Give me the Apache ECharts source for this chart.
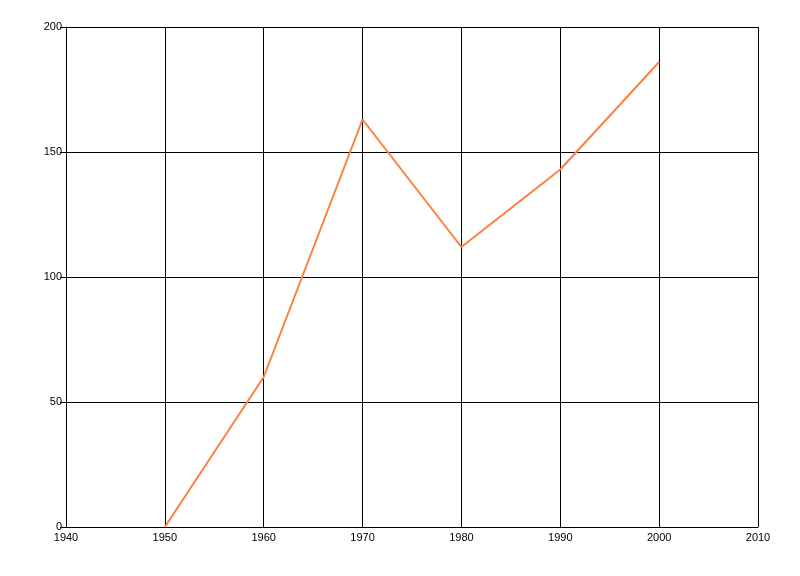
<!DOCTYPE html>
<html><head><meta charset="utf-8">
<script src="https://cdn.jsdelivr.net/npm/echarts@6/dist/echarts.min.js"></script>
<style>html,body{margin:0;padding:0;background:#fff}#c{width:800px;height:576px}</style>
</head><body><div id="c"></div>
<script>
const years = [1950, 1960, 1970, 1980, 1990, 2000];
const values = [0, 60, 163, 112, 143, 186];
const chart = echarts.init(document.getElementById('c'), null, {renderer:'canvas'});
chart.setOption({
  animation:false,
  backgroundColor:'#fff',
  grid:{left:66,right:42,top:27,bottom:49,show:false},
  xAxis:{type:'value',min:1940,max:2010,interval:10,
    axisLine:{show:true,onZero:false,lineStyle:{color:'#000',width:1}},
    axisTick:{show:false},
    axisLabel:{color:'#000',fontFamily:'Liberation Sans, Arial',fontSize:11,margin:5,formatter:v=>String(v)},
    splitLine:{show:true,lineStyle:{color:'#000',width:1}}},
  yAxis:{type:'value',min:0,max:200,interval:50,
    axisLine:{show:true,lineStyle:{color:'#000',width:1}},
    axisTick:{show:true,length:6,lineStyle:{color:'#000'}},
    axisLabel:{color:'#000',fontFamily:'Liberation Sans, Arial',fontSize:11,margin:4,formatter:v=>String(v)},
    splitLine:{show:true,lineStyle:{color:'#000',width:1}}},
  series:[{type:'line',data:years.map((y,i)=>[y,values[i]]),showSymbol:false,
    lineStyle:{color:'#FF7F3F',width:2},itemStyle:{color:'#FF7F3F'}}]
});
</script></body></html>
